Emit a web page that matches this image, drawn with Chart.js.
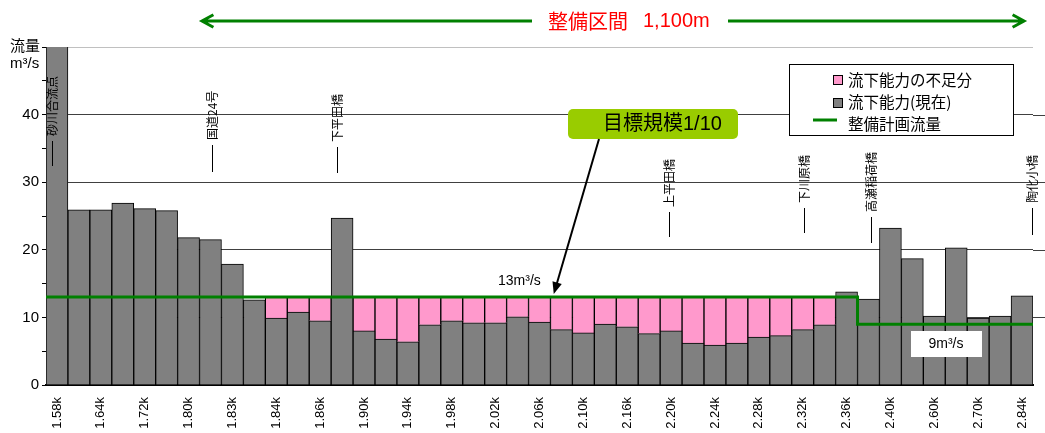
<!DOCTYPE html>
<html>
<head>
<meta charset="utf-8">
<script src="https://cdn.jsdelivr.net/npm/chart.js@4.4.1/dist/chart.umd.min.js"></script>
<style>
  html, body { margin: 0; padding: 0; background: #fff; }
  #wrap { width: 1045px; height: 433px; }
</style>
</head>
<body>
<div id="wrap"><canvas id="chart"></canvas></div>
<script>
// distance labels, shown under every other bar
const tickLabels = ['1.58k', '1.64k', '1.72k', '1.80k', '1.83k', '1.84k', '1.86k', '1.90k',
  '1.94k', '1.98k', '2.02k', '2.06k', '2.10k', '2.16k', '2.20k', '2.24k', '2.28k', '2.32k',
  '2.36k', '2.40k', '2.60k', '2.70k', '2.84k'];

// 流下能力(現在) m3/s, one per section
const capacity = [60, 25.9, 25.9, 26.9, 26.1, 25.8, 21.8, 21.5, 17.9, 12.6,
  9.9, 10.8, 9.5, 24.7, 8.0, 6.8, 6.4, 8.9, 9.5, 9.2,
  9.2, 10.1, 9.3, 8.2, 7.7, 9.0, 8.6, 7.6, 8.0, 6.2,
  5.9, 6.2, 7.1, 7.3, 8.2, 8.9, 13.8, 12.7, 23.2, 18.7,
  10.2, 20.3, 9.9, 10.2, 13.2];

// 流下能力の不足分 m3/s
const shortage = [null, null, null, null, null, null, null, null, null, null,
  3.1, 2.2, 3.5, null, 5.0, 6.2, 6.6, 4.1, 3.5, 3.8,
  3.8, 2.9, 3.7, 4.8, 5.3, 4.0, 4.4, 5.4, 5.0, 6.8,
  7.1, 6.8, 5.9, 5.7, 4.8, 4.1, null, null, null, null,
  null, null, null, null, null];

// 整備計画流量, by section (bar index from / to)
const planFlow = [13, 9];
const planFrom = [0, 37];
const planTo = [37, 45];

// bridges and landmarks, in bar units
const stationNames = ['砂川合流点', '国道24号', '下平田橋', '上平田橋', '下川原橋', '高瀬稲荷橋', '陶化小橋'];
const stationAt = [0.32, 7.63, 13.3, 28.44, 34.6, 37.64, 45.0];

// each section sits in one unit of the x axis
const capacityPts = capacity.map((v, i) => ({ x: i + 0.5, y: v }));
const shortagePts = shortage.map((v, i) => ({ x: i + 0.5, y: v }));
const planPoints = [];
planFlow.forEach((v, i) => {
  planPoints.push({ x: planFrom[i], y: v });
  planPoints.push({ x: planTo[i], y: v });
});

const JP = '"Noto Sans CJK JP"';
const LAT = '"Liberation Sans", "Noto Sans CJK JP", sans-serif';
const green = '#008000';

// pixel rows of the small marker line under each station caption
const stationLine = [[141, 166], [145, 172], [147, 173], [212, 237], [208, 233], [217, 243], [208, 235]];

function openArrow(ctx, x1, y1, x2, y2) {
  const a = Math.atan2(y2 - y1, x2 - x1);
  ctx.beginPath();
  ctx.moveTo(x1, y1);
  ctx.lineTo(x2, y2);
  ctx.moveTo(x2 - 13 * Math.cos(a - 0.5), y2 - 13 * Math.sin(a - 0.5));
  ctx.lineTo(x2, y2);
  ctx.lineTo(x2 - 13 * Math.cos(a + 0.5), y2 - 13 * Math.sin(a + 0.5));
  ctx.stroke();
}

const overlay = {
  id: 'overlay',
  beforeDatasetsDraw(chart) {
    // grid lines run on past the last bar to the edge
    const { ctx, chartArea: a, scales: { y } } = chart;
    ctx.save();
    ctx.strokeStyle = '#404040';
    ctx.lineWidth = 1;
    [10, 20, 30, 40].forEach(v => {
      const py = Math.round(y.getPixelForValue(v)) + 0.5;
      ctx.beginPath();
      ctx.moveTo(a.right, py);
      ctx.lineTo(chart.width, py);
      ctx.stroke();
    });
    ctx.restore();
  },
  afterDraw(chart) {
    const { ctx, scales: { x, y } } = chart;
    ctx.save();
    ctx.textBaseline = 'middle';
    ctx.textAlign = 'left';

    // header
    ctx.fillStyle = '#ff0000';
    ctx.font = '20px ' + JP;
    ctx.fillText('整備区間', 548, 21);
    ctx.font = '20px ' + LAT;
    ctx.fillText('1,100m', 643, 21);
    ctx.strokeStyle = green;
    ctx.lineWidth = 3;
    openArrow(ctx, 532, 21, 202, 21);
    openArrow(ctx, 728, 21, 1024, 21);

    // y axis title
    ctx.fillStyle = '#000';
    ctx.font = '15px ' + JP;
    ctx.fillText('流量', 10, 45);
    ctx.font = '15px ' + LAT;
    ctx.fillText('m³/s', 10, 64);

    // station captions
    ctx.strokeStyle = '#000';
    ctx.lineWidth = 1;
    ctx.font = '12px ' + JP;
    stationNames.forEach((name, i) => {
      const px = Math.round(x.getPixelForValue(stationAt[i])) - 0.5;
      const [t, b] = stationLine[i];
      ctx.beginPath();
      ctx.moveTo(px, t);
      ctx.lineTo(px, b);
      ctx.stroke();
      ctx.save();
      ctx.translate(px, t - 5);
      ctx.rotate(-Math.PI / 2);
      ctx.fillText(name, 0, 0);
      ctx.restore();
    });

    // legend
    ctx.fillStyle = '#fff';
    ctx.fillRect(789.5, 64.5, 224, 71);
    ctx.strokeRect(789.5, 64.5, 224, 71);
    ctx.fillStyle = '#ff99cc';
    ctx.fillRect(833.5, 75.5, 9, 9);
    ctx.strokeRect(833.5, 75.5, 9, 9);
    ctx.fillStyle = '#808080';
    ctx.fillRect(833.5, 98.5, 9, 9);
    ctx.strokeRect(833.5, 98.5, 9, 9);
    ctx.strokeStyle = green;
    ctx.lineWidth = 3;
    ctx.beginPath();
    ctx.moveTo(813, 120);
    ctx.lineTo(837, 120);
    ctx.stroke();
    ctx.fillStyle = '#000';
    ctx.font = '15.5px ' + JP;
    ctx.fillText('流下能力の不足分', 848, 80);
    ctx.fillText('流下能力(現在)', 848, 102);
    ctx.fillText('整備計画流量', 848, 124);

    // flow labels
    ctx.font = '14px ' + LAT;
    ctx.fillText('13m³/s', 498, y.getPixelForValue(planFlow[0]) - 16);
    ctx.fillStyle = '#fff';
    ctx.fillRect(911, 331, 71, 26);
    ctx.fillStyle = '#000';
    ctx.textAlign = 'center';
    ctx.fillText('9m³/s', 946, 344);

    // callout
    ctx.fillStyle = '#99cc00';
    ctx.beginPath();
    ctx.roundRect(568, 109, 170, 30, 5);
    ctx.fill();
    ctx.fillStyle = '#000';
    ctx.textAlign = 'left';
    ctx.font = '20px ' + LAT;
    ctx.fillText('目標規模1/10', 603, 124);
    const tx = x.getPixelForValue(23.15), ty = y.getPixelForValue(planFlow[0]) - 3;
    const sx = 599, sy = 139;
    const a = Math.atan2(ty - sy, tx - sx);
    ctx.strokeStyle = '#000';
    ctx.lineWidth = 2;
    ctx.beginPath();
    ctx.moveTo(sx, sy);
    ctx.lineTo(tx - 10 * Math.cos(a), ty - 10 * Math.sin(a));
    ctx.stroke();
    ctx.beginPath();
    ctx.moveTo(tx, ty);
    ctx.lineTo(tx - 13 * Math.cos(a - 0.38), ty - 13 * Math.sin(a - 0.38));
    ctx.lineTo(tx - 13 * Math.cos(a + 0.38), ty - 13 * Math.sin(a + 0.38));
    ctx.closePath();
    ctx.fill();
    ctx.restore();
  }
};

const ctx = document.getElementById('chart').getContext('2d');
new Chart(ctx, {
  type: 'bar',
  data: {
    datasets: [
      {
        label: '流下能力(現在)',
        data: capacityPts,
        backgroundColor: '#808080',
        borderColor: '#000',
        borderWidth: 1,
        categoryPercentage: 1,
        barPercentage: 1,
        grouped: false,
        order: 2
      },
      {
        label: '流下能力の不足分',
        data: shortagePts,
        backgroundColor: '#ff99cc',
        borderColor: '#000',
        borderWidth: 1,
        categoryPercentage: 1,
        barPercentage: 1,
        grouped: false,
        order: 2
      },
      {
        type: 'line',
        label: '整備計画流量',
        data: planPoints,
        borderColor: green,
        borderWidth: 3,
        pointRadius: 0,
        fill: false,
        order: 0
      }
    ]
  },
  options: {
    responsive: true,
    maintainAspectRatio: false,
    animation: false,
    devicePixelRatio: 1,
    layout: { padding: { top: 47, right: 12, left: 0, bottom: 0 } },
    plugins: {
      legend: { display: false },
      tooltip: { enabled: false }
    },
    scales: {
      x: {
        type: 'linear',
        stacked: true,
        offset: false,
        min: 0,
        max: capacity.length,
        grid: { display: false, drawTicks: false, offset: false },
        border: { color: '#000', width: 2 },
        afterBuildTicks: s => {
          s.ticks = tickLabels.map((_, k) => ({ value: 2 * k + 0.5 }));
        },
        ticks: {
          autoSkip: false,
          maxRotation: 90,
          minRotation: 90,
          padding: 12,
          color: '#000',
          font: { family: LAT, size: 13 },
          callback: (v, i) => tickLabels[i]
        },
        afterFit: s => {
          s.height = 48;
          s.paddingLeft = 0;
          s.paddingRight = 0;
        }
      },
      y: {
        stacked: true,
        min: 0,
        max: 50,
        border: { color: '#000', width: 1 },
        grid: {
          color: c => c.tick.value === 50 ? '#c0c0c0' : (c.tick.value % 10 === 0 ? '#404040' : 'rgba(0,0,0,0)'),
          tickColor: '#000',
          tickLength: 4
        },
        ticks: {
          stepSize: 5,
          padding: 3,
          color: '#000',
          font: { family: LAT, size: 15 },
          callback: v => (v % 10 === 0 && v < 50) ? v : ''
        },
        afterFit: s => { s.width = 46; }
      }
    }
  },
  plugins: [overlay]
});
</script>
</body>
</html>
